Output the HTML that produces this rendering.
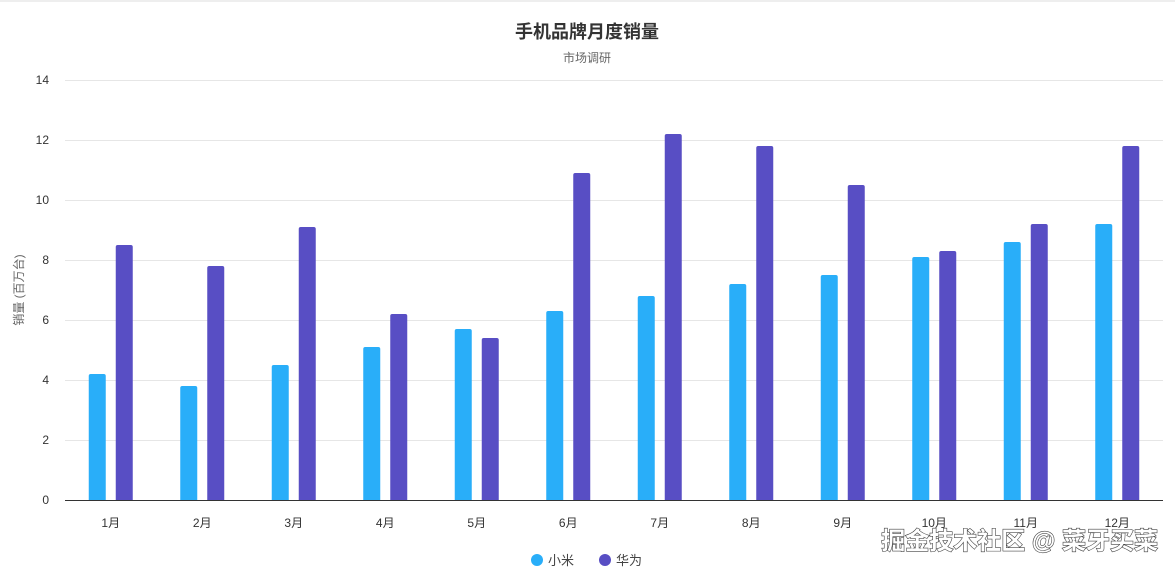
<!DOCTYPE html>
<html><head><meta charset="utf-8"><style>
html,body{margin:0;padding:0;background:#fff;}
svg{display:block;font-family:"Liberation Sans","Noto Sans CJK SC",sans-serif;}
</style></head><body>
<svg width="1175" height="572" viewBox="0 0 1175 572" xmlns="http://www.w3.org/2000/svg">
<rect x="0" y="0" width="1175" height="2" fill="#eeeeee"/>
<text x="587" y="38" text-anchor="middle" font-size="18" font-weight="bold" fill="#333">手机品牌月度销量</text>
<text x="587" y="62" text-anchor="middle" font-size="12" fill="#666">市场调研</text>
<g stroke="#e6e6e6" stroke-width="1">
<line x1="65" x2="1163" y1="80.5" y2="80.5"/><line x1="65" x2="1163" y1="140.5" y2="140.5"/>
<line x1="65" x2="1163" y1="200.5" y2="200.5"/><line x1="65" x2="1163" y1="260.5" y2="260.5"/>
<line x1="65" x2="1163" y1="320.5" y2="320.5"/><line x1="65" x2="1163" y1="380.5" y2="380.5"/>
<line x1="65" x2="1163" y1="440.5" y2="440.5"/>
</g>
<g font-size="12" fill="#333" text-anchor="end">
<text x="49" y="84">14</text><text x="49" y="144">12</text><text x="49" y="204">10</text>
<text x="49" y="264">8</text><text x="49" y="324">6</text><text x="49" y="384">4</text>
<text x="49" y="444">2</text><text x="49" y="504">0</text>
</g>
<text transform="translate(23,290) rotate(-90)" text-anchor="middle" font-size="12" fill="#666">销量 (百万台)</text>
<g id="bars"></g>
<line x1="65" x2="1163" y1="500.5" y2="500.5" stroke="#333" stroke-width="1"/>
<g id="labels" font-size="12" fill="#333" text-anchor="middle"></g>
<circle cx="537" cy="560" r="6" fill="#29aef9"/>
<text x="548" y="565" font-size="13" fill="#444">小米</text>
<circle cx="605" cy="560" r="6" fill="#584ec4"/>
<text x="616" y="565" font-size="13" fill="#444">华为</text>
<text x="1158" y="549" text-anchor="end" font-size="24" font-weight="bold" fill="#fff" stroke="#444" stroke-width="1.2" paint-order="stroke">掘金技术社区 @ 菜牙买菜</text>
<script>
var xm=[4.2,3.8,4.5,5.1,5.7,6.3,6.8,7.2,7.5,8.1,8.6,9.2];
var hw=[8.5,7.8,9.1,6.2,5.4,10.9,12.2,11.8,10.5,8.3,9.2,11.8];
var g=document.getElementById('bars'),l=document.getElementById('labels'),ns='http://www.w3.org/2000/svg';
function bar(x,v,c){var h=v*30,r=document.createElementNS(ns,'path');
var y=500-h;r.setAttribute('d','M'+x+' 500 V'+(y+2)+' Q'+x+' '+y+' '+(x+2)+' '+y+' H'+(x+15)+' Q'+(x+17)+' '+y+' '+(x+17)+' '+(y+2)+' V500 Z');
r.setAttribute('fill',c);g.appendChild(r);}
for(var i=0;i<12;i++){var c=65+91.5*(i+0.5);bar(c-22,xm[i],'#29aef9');bar(c+5,hw[i],'#584ec4');
var t=document.createElementNS(ns,'text');t.setAttribute('x',c);t.setAttribute('y',527);t.textContent=(i+1)+'月';l.appendChild(t);}
</script>
</svg>
</body></html>
